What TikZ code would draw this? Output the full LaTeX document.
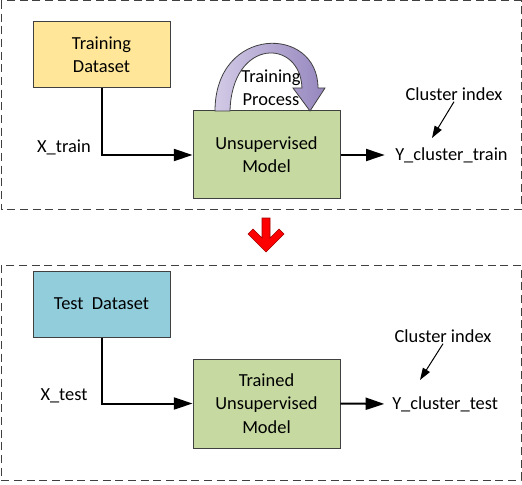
\documentclass[tikz,border=0pt]{standalone}
\usepackage{fontspec}
\setmainfont{Carlito}
\usetikzlibrary{positioning, arrows.meta}
\definecolor{dsyellow}{RGB}{255,230,153}
\definecolor{dsblue}{RGB}{146,205,220}
\definecolor{mdgreen}{RGB}{197,217,160}
\definecolor{bordergray}{RGB}{64,64,64}
\definecolor{loopleft}{RGB}{210,202,230}
\definecolor{loopright}{RGB}{150,135,190}
\tikzset{
  databox/.style={draw=bordergray, line width=0.75pt, align=center, minimum width=102.75pt, minimum height=49.5pt},
  modelbox/.style={draw=bordergray, line width=0.75pt, fill=mdgreen, align=center, minimum width=110.25pt, minimum height=66pt},
  label/.style={inner sep=0.75pt},
  flow/.style={line width=1.5pt, -{Triangle[length=14pt, width=9pt]}},
  pointer/.style={line width=0.75pt, -{Triangle[length=9pt, width=6pt]}},
  frame/.style={draw=bordergray, line width=0.75pt, dash pattern=on 6pt off 3.5pt}
}
\begin{document}
\begin{tikzpicture}[x=0.75pt,y=0.75pt,yscale=-1,xscale=1,font=\fontsize{13.8}{17.5}\selectfont]
\useasboundingbox (0,0) rectangle (522,485);

%Frames
\draw [frame] (1,1) rectangle (521,210) ;
\draw [frame] (1,265) rectangle (521,480) ;

%Training part
\node [databox, fill=dsyellow] (train) at (101.5,55) {Training\\Dataset};
\node [modelbox] (umodel) at (266.5,155) {Unsupervised\\Model};
\node [label] (xtrain) at (64,147) {X\_train};
\node [label, anchor=west] (ytrain) at (394,155) {Y\_cluster\_train};
\node [label] (cidx1) at (454,94) {Cluster index};
\coordinate (cend1) at (432,138);

%Training loop arrow
\draw [bordergray, line width=0.6pt, left color=loopleft, right color=loopright]
  (215,111) .. controls (215,25) and (318,25) .. (318,88) -- (325,88) -- (310,111) -- (293,88) -- (302,88)
  .. controls (300,38) and (232,38) .. (230,111) -- cycle ;
\node [label, align=center] (tproc) at (271,88) {Training\\Process};

\draw [flow] (train.south) |- (umodel.west) ;
\draw [flow, shorten >=7pt] (umodel.east) -- (ytrain.west) ;
\draw [pointer] (cidx1.south) -- (cend1) ;

%Red arrow between the stages
\draw [draw={rgb, 255:red, 160; green, 0; blue, 0 }, fill=red, line width=0.5pt]
  (262,218) -- (270,218) -- (270,238) -- (279,229) -- (284,234) -- (266,252) -- (248,234) -- (253,229) -- (262,238) -- cycle ;

%Test part
\node [databox, fill=dsblue] (test) at (101.5,304) {Test\ \ Dataset};
\node [modelbox, minimum height=66.75pt] (tmodel) at (266.5,403.5) {Trained\\Unsupervised\\Model};
\node [label] (xtest) at (64,396) {X\_test};
\node [label, anchor=west] (ytest) at (391,404) {Y\_cluster\_test};
\node [label] (cidx2) at (443,336) {Cluster index};
\coordinate (cend2) at (420,380);

\draw [flow] (test.south) |- (tmodel.west) ;
\draw [flow, shorten >=5pt] (tmodel.east) -- (ytest.west) ;
\draw [pointer] (cidx2.south) -- (cend2) ;
\end{tikzpicture}
\end{document}
